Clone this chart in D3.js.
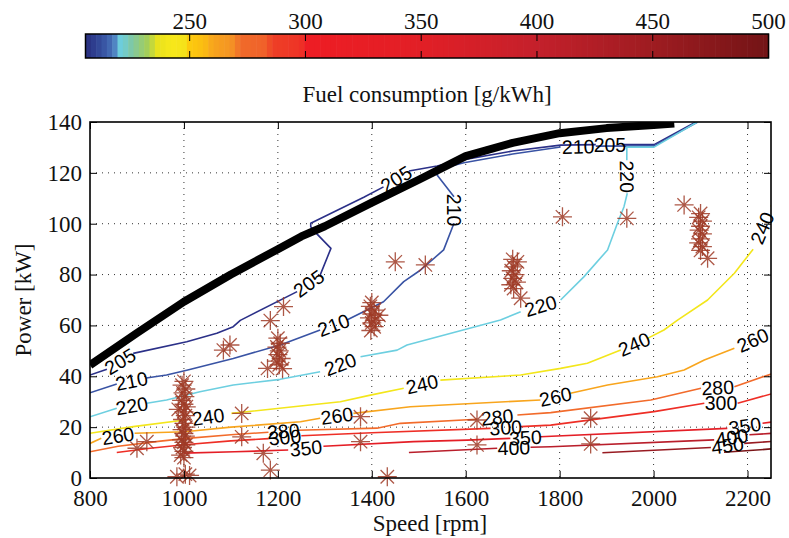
<!DOCTYPE html>
<html lang="en">
<head>
<meta charset="UTF-8">
<script src="https://cdnjs.cloudflare.com/ajax/libs/d3/7.8.5/d3.min.js"></script>
<style>
  body { margin: 0; background: #fff; }
  svg, svg text { font-family: 'Liberation Serif', 'Times New Roman', serif; }
  .tick text { font-family: 'Liberation Serif', 'Times New Roman', serif; font-size: 23px; fill: #111; }
  text.clab { font-family: 'Liberation Sans', Arial, sans-serif; font-size: 19.5px; fill: #000; }
</style>
<title>BSFC map</title>
</head>
<body>
<div id="chart"></div>
<script>
// ---------- data ----------
const levels = [205, 210, 220, 240, 260, 280, 300, 350, 400, 450, 500];
const levelColors = ['#2b3088', '#3953a4', '#6dcfe0', '#f3e61b', '#f8a51d', '#f26b2b',
                     '#ee2e26', '#e41e26', '#b91e2b', '#981b22', '#7a1518'];
const cbTicks = [250, 300, 350, 400, 450, 500];
const xTicks = [800, 1000, 1200, 1400, 1600, 1800, 2000, 2200];
const yTicks = [0, 20, 40, 60, 80, 100, 120, 140];

// colour map of the colour bar (value -> colour)
const cmapStops = [205, 209, 214, 217.5, 219, 221, 225, 232, 236, 242, 248, 250, 256, 260, 268,
                   272, 282, 286, 298, 300, 350, 400, 450, 500];
const cmapColors = ['#2a2e7e', '#2f3f90', '#3b5ba8', '#4c7cbf', '#6bcde0', '#6fcdd8', '#7fc7a4',
                    '#a6cf55', '#e8e21e', '#f7e81a', '#f5e21a', '#fcc90e', '#fbbd12', '#f7a41d',
                    '#f49424', '#f06a2a', '#f0632a', '#ee3f26', '#ee3326', '#ee1d24', '#e21f26',
                    '#c4202b', '#9e1c21', '#731416'];

// contour lines [rpm, kW]; each level is a list of pieces, a label sits in every gap
const c205 = [
  [[800, 40.5], [836, 42.8]],
  [[892, 49], [1006, 53.6], [1070, 56.9], [1105, 59.5], [1120, 62], [1241, 73.3]],
  [[1290, 79.8], [1313, 90.3], [1282, 96.2], [1270, 98.8], [1270, 100.2], [1383, 110.4], [1425, 114.5]],
  [[1479, 120.7], [1539, 122.7], [1596, 125.2], [1700, 128.6], [1802, 130.9], [1877, 131.1]],
  [[1937, 131.1], [2001, 131.1], [2093, 140.3]]
];
const c210 = [
  [[2093, 139.9], [2001, 130.6], [1877, 130.5]],
  [[1802, 130.2], [1700, 127.4], [1596, 124], [1548, 121.6], [1539, 119.2], [1575, 110.6]],
  [[1575, 100.2], [1553, 89.7], [1504, 81.8], [1468, 77.2], [1425, 69.3], [1347, 62.1]],
  [[1290, 58.2], [1205, 52.3], [1105, 47], [1006, 42.4], [963, 40.5], [920, 39.3]],
  [[857, 37], [800, 33.5]]
];
const c220 = [
  [[800, 24.1], [857, 27.4]],
  [[921, 29.4], [963, 30.7], [1034, 33.9], [1105, 36.6], [1205, 38.8], [1290, 41.8]],
  [[1376, 47.7], [1454, 50.3], [1475, 52.3], [1674, 62.1], [1717, 65.4]],
  [[1802, 70], [1852, 79.2], [1902, 89.7], [1923, 100.2], [1937, 106.7], [1944, 112]],
  [[1943, 125], [1943, 130.1], [2001, 130.1], [2093, 140]]
];
const c240 = [
  [[800, 17.6], [892, 20.2], [1002, 22.8]],
  [[1101, 25.4], [1248, 28.3], [1333, 30], [1397, 32.6], [1468, 35.3]],
  [[1546, 38.5], [1717, 40.5], [1802, 43.1], [1859, 45.1], [1930, 50.3]],
  [[1987, 54.9], [2022, 58.2], [2051, 62.1], [2115, 70], [2172, 80.5], [2212, 90]],
  [[2250, 106.7], [2262, 112]]
];
const c260 = [
  [[800, 13.6], [824, 15.6]],
  [[895, 17.6], [1002, 18.2], [1100, 20], [1248, 22.1], [1290, 23.5]],
  [[1361, 25.4], [1482, 28], [1759, 30.7]],
  [[1823, 33.3], [1902, 36.6], [2008, 39.8], [2065, 42.5], [2108, 46.4], [2172, 51]],
  [[2250, 57.5], [2262, 58.5]]
];
const c280 = [
  [[800, 10.3], [860, 12.5], [950, 14.5], [1000, 15.5], [1100, 17], [1180, 18]],
  [[1243, 18.8], [1411, 19.6], [1461, 21.5], [1624, 23.1]],
  [[1710, 24.8], [1781, 25.7], [1994, 30.7], [2101, 35.3]],
  [[2172, 35.9], [2255, 41.2]]
];
const c300 = [
  [[857, 10], [928, 11.7], [1000, 13.1], [1100, 14.6], [1180, 15.5]],
  [[1250, 16.6], [1400, 17.8], [1653, 19.5]],
  [[1717, 20.2], [1781, 20.8], [2001, 26.1], [2108, 29.4]],
  [[2179, 29.4], [2255, 33.3]]
];
const c350 = [
  [[1000, 9.8], [1108, 10.3], [1222, 11]],
  [[1297, 12.5], [1489, 14.3], [1603, 14.9], [1695, 15.6]],
  [[1759, 16.2], [2157, 19.5]],
  [[2232, 21.5], [2255, 22.1]]
];
const c400 = [
  [[1479, 10], [1667, 11.7]],
  [[1738, 12.1], [1781, 12.3], [2129, 15]],
  [[2204, 17], [2255, 17.6]]
];
const c450 = [
  [[1891, 9.95], [2122, 12]],
  [[2193, 13.6], [2255, 14.4]]
];
const c500 = [
  [[2150, 10.1], [2255, 11.5]]
];

// full load curve
const fullLoad = [[800, 44.4], [900, 57], [1000, 69.3], [1100, 80], [1200, 90], [1250, 95], [1300, 99],
                  [1400, 108.3], [1500, 117.3], [1600, 126.6], [1700, 131.8], [1800, 135.6],
                  [1900, 137.6], [2000, 138.8], [2044, 139.4]];

// measured operating points [rpm, kW]
const opPoints = [
  [1000, 38], [996, 36.5], [1004, 35], [998, 33.5], [1002, 32], [995, 30.5], [1000, 29], [1005, 28],
  [988, 27], [1000, 26], [1003, 24.5], [997, 23], [1000, 21.5], [1004, 20], [996, 19], [1000, 17.5],
  [1003, 16.5], [995, 15], [1000, 14], [1004, 13], [997, 12], [1000, 10.5], [993, 9], [1000, 8],
  [985, 0.5], [1003, 1.5], [1012, 1],
  [900, 11.7], [921, 14.3], [1084, 50.3], [1098, 52.3], [1123, 25.4], [1123, 16.2], [1169, 9.7], [1184, 3.1],
  [1200, 55], [1205, 53], [1198, 51.5], [1203, 50], [1200, 48.5], [1207, 47], [1197, 46], [1203, 44.5],
  [1210, 43], [1178, 43.1], [1184, 61.9], [1212, 67.4],
  [1400, 69], [1397, 67.5], [1405, 66], [1400, 64.5], [1395, 63], [1408, 62], [1400, 61], [1405, 59.5],
  [1398, 58], [1415, 64], [1450, 85], [1514, 83.8], [1376, 24.1], [1376, 14.3], [1433, 0.5],
  [1624, 22.8], [1624, 13],
  [1700, 86], [1710, 85], [1702, 83], [1697, 81.5], [1705, 80], [1700, 78.5], [1708, 77], [1696, 76],
  [1702, 74.5], [1717, 70.7],
  [1806, 102.7], [1943, 102.1], [1866, 23.5], [1866, 13.4], [2065, 107.4],
  [2100, 104], [2096, 102.5], [2104, 101], [2100, 99], [2097, 97.5], [2104, 96], [2100, 94], [2096, 92.5],
  [2104, 91], [2100, 89.5], [2115, 86.4]
];

const contours = [c205, c210, c220, c240, c260, c280, c300, c350, c400, c450, c500]
  .map((pieces, i) => ({ level: levels[i], color: levelColors[i], pieces }));

// ---------- chart ----------
const W = 789, H = 538;
const plot = { left: 90, right: 771, top: 122, bottom: 478 };

const svg = d3.select('#chart').append('svg')
  .attr('width', W).attr('height', H);

const x = d3.scaleLinear().domain([800, 2250]).range([plot.left, plot.right]);
const y = d3.scaleLinear().domain([0, 140]).range([plot.bottom, plot.top]);

// colour bar
const cb = d3.scaleLinear().domain([205, 500]).range([85.5, 768.5]);
const cmap = d3.scaleLinear().domain(cmapStops).range(cmapColors);
const cbTop = 34, cbH = 24, nBands = 128;
const bandW = (cb.range()[1] - cb.range()[0]) / nBands;
const cbG = svg.append('g');
cbG.selectAll('rect.band')
  .data(d3.range(nBands))
  .join('rect')
  .attr('x', i => cb.range()[0] + i * bandW)
  .attr('y', cbTop)
  .attr('width', bandW + 0.6)
  .attr('height', cbH)
  .attr('fill', i => cmap(205 + (i + 0.5) * 295 / nBands));
cbG.append('rect')
  .attr('x', cb.range()[0]).attr('y', cbTop)
  .attr('width', cb.range()[1] - cb.range()[0]).attr('height', cbH)
  .attr('fill', 'none').attr('stroke', '#000').attr('stroke-width', 1.5);
cbTicks.forEach(t => {
  cbG.append('line').attr('x1', cb(t)).attr('x2', cb(t)).attr('y1', cbTop).attr('y2', cbTop + 7)
    .attr('stroke', '#000');
  cbG.append('line').attr('x1', cb(t)).attr('x2', cb(t)).attr('y1', cbTop + cbH - 7).attr('y2', cbTop + cbH)
    .attr('stroke', '#000');
  cbG.append('text').attr('x', cb(t)).attr('y', 29)
    .attr('text-anchor', 'middle').attr('font-size', 23).attr('fill', '#111')
    .text(t);
});
svg.append('text').attr('x', 427).attr('y', 102)
  .attr('text-anchor', 'middle').attr('font-size', 23).attr('fill', '#111')
  .text('Fuel consumption [g/kWh]');

// clip
svg.append('clipPath').attr('id', 'clip')
  .append('rect')
  .attr('x', plot.left).attr('y', plot.top)
  .attr('width', plot.right - plot.left).attr('height', plot.bottom - plot.top);

// grid
const grid = svg.append('g').attr('stroke', '#333').attr('stroke-width', 1)
  .attr('stroke-dasharray', '1,5');
xTicks.slice(1).forEach(t => grid.append('line')
  .attr('x1', x(t)).attr('x2', x(t)).attr('y1', plot.top).attr('y2', plot.bottom));
yTicks.slice(1, -1).forEach(t => grid.append('line')
  .attr('x1', plot.left).attr('x2', plot.right).attr('y1', y(t)).attr('y2', y(t)));

// contour lines
const line = d3.line().x(d => x(d[0])).y(d => y(d[1]));
const cg = svg.append('g').attr('clip-path', 'url(#clip)');
contours.forEach(c => {
  c.pieces.forEach(p => {
    cg.append('path').attr('d', line(p))
      .attr('fill', 'none').attr('stroke', c.color).attr('stroke-width', 1.6)
      .attr('stroke-linejoin', 'round');
  });
});

// full load curve
cg.append('path').attr('d', line(fullLoad))
  .attr('fill', 'none').attr('stroke', '#000').attr('stroke-width', 8)
  .attr('stroke-linejoin', 'round');

// contour labels in the gaps
const lg = svg.append('g');
contours.forEach(c => {
  for (let i = 0; i < c.pieces.length - 1; i++) {
    const a = c.pieces[i][c.pieces[i].length - 1], b = c.pieces[i + 1][0];
    const ax = x(a[0]), ay = y(a[1]), bx = x(b[0]), by = y(b[1]);
    let ang = Math.atan2(by - ay, bx - ax) * 180 / Math.PI;
    if (ang > 90) ang -= 180;
    if (ang < -90) ang += 180;
    const mx = (ax + bx) / 2, my = (ay + by) / 2;
    lg.append('text').attr('class', 'clab')
      .attr('transform', `translate(${mx},${my}) rotate(${ang})`)
      .attr('text-anchor', 'middle').attr('dy', '0.36em')
      .text(c.level);
  }
});

// operating points (asterisks)
const r = 9.5, rd = r * Math.SQRT1_2;
const star = `M${-r},0H${r}M0,${-r}V${r}M${-rd},${-rd}L${rd},${rd}M${-rd},${rd}L${rd},${-rd}`;
svg.append('g').selectAll('path')
  .data(opPoints)
  .join('path')
  .attr('d', star)
  .attr('transform', d => `translate(${x(d[0])},${y(d[1])})`)
  .attr('fill', 'none').attr('stroke', '#9f3b27').attr('stroke-width', 1.3)
  .attr('stroke-opacity', 0.85);

// axes (ticks inward, box)
const fmt = d3.format('d');
const ax = svg.append('g');
ax.append('g').attr('transform', `translate(0,${plot.bottom})`)
  .call(d3.axisBottom(x).tickValues(xTicks).tickFormat(fmt).tickSizeInner(-7).tickSizeOuter(0).tickPadding(12))
  .call(g => g.select('.domain').remove());
ax.append('g').attr('transform', `translate(${plot.left},0)`)
  .call(d3.axisLeft(y).tickValues(yTicks).tickFormat(fmt).tickSizeInner(-7).tickSizeOuter(0).tickPadding(8))
  .call(g => g.select('.domain').remove());
ax.append('g').attr('transform', `translate(0,${plot.top})`)
  .call(d3.axisTop(x).tickValues(xTicks).tickSizeInner(-7).tickSizeOuter(0).tickFormat(''))
  .call(g => g.select('.domain').remove());
ax.append('g').attr('transform', `translate(${plot.right},0)`)
  .call(d3.axisRight(y).tickValues(yTicks).tickSizeInner(-7).tickSizeOuter(0).tickFormat(''))
  .call(g => g.select('.domain').remove());
ax.selectAll('g').attr('font-family', null).attr('font-size', null);
ax.selectAll('.tick text')
  .style('font-family', "'Liberation Serif', 'Times New Roman', serif")
  .style('font-size', '23px');
ax.append('rect')
  .attr('x', plot.left).attr('y', plot.top)
  .attr('width', plot.right - plot.left).attr('height', plot.bottom - plot.top)
  .attr('fill', 'none').attr('stroke', '#000').attr('stroke-width', 1.6);

svg.append('text').attr('x', 430).attr('y', 531)
  .attr('text-anchor', 'middle').attr('font-size', 23).attr('fill', '#111')
  .text('Speed [rpm]');
svg.append('text')
  .attr('transform', 'translate(31,300) rotate(-90)')
  .attr('text-anchor', 'middle').attr('font-size', 23).attr('fill', '#111')
  .text('Power [kW]');
</script>
</body>
</html>
